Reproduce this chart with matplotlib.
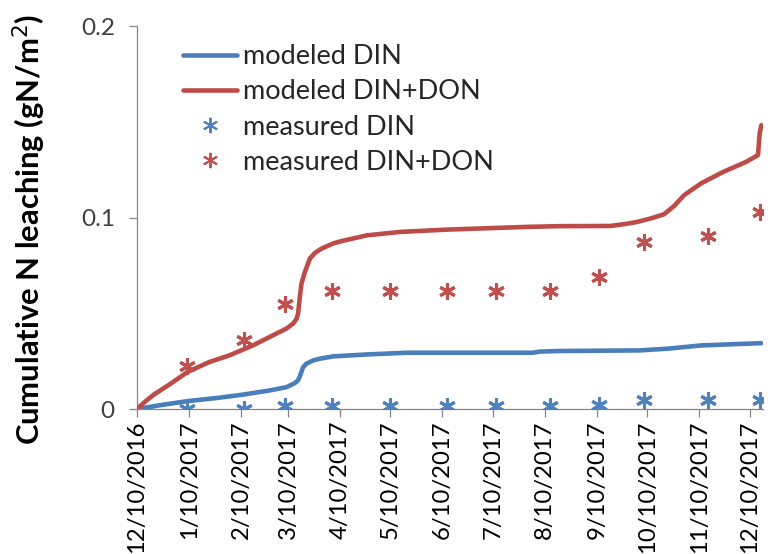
import numpy as np
import pandas as pd
import matplotlib
matplotlib.use("Agg")
import matplotlib.pyplot as plt

plt.rcParams['font.family'] = ['Lato', 'DejaVu Sans']

start_date = "2016-12-10"

# Modeled cumulative leaching (days since start, gN/m2)
red_days = [0, 5, 10, 20, 30, 43, 55, 69, 81, 89, 93, 95, 96, 97, 98, 100, 103,
            106, 110, 117, 121, 137, 157, 185, 232, 252, 282, 290, 298, 306,
            314, 320, 326, 336, 349, 363, 370, 371, 372]
red_vals = [0.0, 0.004, 0.0075, 0.0132, 0.0193, 0.0245, 0.028, 0.0332, 0.0385,
            0.042, 0.0446, 0.047, 0.0498, 0.0585, 0.0655, 0.0715, 0.0786,
            0.0815, 0.0838, 0.0865, 0.0875, 0.0907, 0.0925, 0.0937, 0.0951,
            0.0955, 0.0956, 0.0965, 0.0977, 0.0995, 0.1017, 0.1060, 0.1117,
            0.1178, 0.1237, 0.1291, 0.1326, 0.1439, 0.1482]

blue_days = [0, 7, 13, 30, 49, 63, 79, 89, 94, 96, 97, 99, 101, 105, 109, 117,
             137, 161, 196, 236, 240, 252, 299, 316, 336, 372]
blue_vals = [0.0, 0.001, 0.0019, 0.0041, 0.0059, 0.0075, 0.0097, 0.0114,
             0.0135, 0.0150, 0.017, 0.0219, 0.0237, 0.0254, 0.0263, 0.0275,
             0.0285, 0.0294, 0.0294, 0.0294, 0.0300, 0.0303, 0.0306, 0.0315,
             0.0332, 0.0344]

# Measured cumulative leaching
meas_days = [30, 64, 88, 116, 151, 185, 214, 246, 275, 302, 340, 371]
meas_din = [0.0, 0.0, 0.0015, 0.0015, 0.0015, 0.0015, 0.0015, 0.0015, 0.002,
            0.0045, 0.0045, 0.0045]
meas_dindon = [0.0224, 0.0362, 0.0547, 0.0615, 0.0615, 0.0615, 0.0615,
               0.0615, 0.069, 0.0872, 0.0902, 0.103]

tick_labels = ["12/10/2016", "1/10/2017", "2/10/2017", "3/10/2017",
               "4/10/2017", "5/10/2017", "6/10/2017", "7/10/2017",
               "8/10/2017", "9/10/2017", "10/10/2017", "11/10/2017",
               "12/10/2017"]
y_ticks = [0, 0.1, 0.2]
y_tick_labels = ["0", "0.1", "0.2"]

base = pd.Timestamp(start_date)
to_dates = lambda d: base + pd.to_timedelta(np.asarray(d), unit="D")

fig = plt.figure(figsize=(7.68, 5.54), dpi=100)
ax = fig.add_axes([0.1784, 0.2617, 0.8151, 0.6913])

c_blue = "#4A7EBB"
c_red = "#BE4B48"
star = (6, 2, 0)

ax.plot(to_dates(blue_days), blue_vals, color=c_blue, lw=3.3,
        solid_capstyle="round", label="modeled DIN", zorder=3)
ax.plot(to_dates(red_days), red_vals, color=c_red, lw=3.3,
        solid_capstyle="round", label="modeled DIN+DON", zorder=3)
ax.plot(to_dates(meas_days), meas_din, ls="none", marker=star, ms=12,
        mew=2.2, color="#4F81BD", label="measured DIN", zorder=4)
ax.plot(to_dates(meas_days), meas_dindon, ls="none", marker=star, ms=12,
        mew=2.2, color="#C0504D", label="measured DIN+DON", zorder=4)

ax.set_ylim(0, 0.2)
ax.set_xlim(base, base + pd.Timedelta(days=373))
ax.set_yticks(y_ticks)
ax.set_yticklabels(y_tick_labels)
tick_dates = pd.to_datetime(tick_labels, format="%m/%d/%Y")
ax.set_xticks(tick_dates)
ax.set_xticklabels(tick_labels, rotation=90, va="top", ha="center")

spine_c = "#868686"
for s in ["top", "right"]:
    ax.spines[s].set_visible(False)
for s in ["left", "bottom"]:
    ax.spines[s].set_color(spine_c)
    ax.spines[s].set_linewidth(0.9)
ax.tick_params(axis="both", direction="out", length=6, width=0.9,
               color=spine_c, labelsize=17.5, labelcolor="#404040")
ax.tick_params(axis="x", pad=2, labelsize=17.2, labelcolor="black")
ax.tick_params(axis="y", pad=10)

fig.text(0.038, 1 - 229 / 554, "Cumulative N leaching (gN/m$^2$)",
         rotation=90, ha="center", va="center", fontsize=22.3,
         fontweight="bold", color="black")

leg = ax.legend(loc="upper left", bbox_to_anchor=(183 / 768, 1 - 44 / 554),
                bbox_transform=fig.transFigure, frameon=False, fontsize=19.5,
                handlelength=2.0, handletextpad=0.2, labelspacing=0.38,
                borderpad=0, borderaxespad=0)
for t in leg.get_texts():
    t.set_color("#262626")
for h in leg.legend_handles[2:]:
    h.set_markersize(11)
    h.set_markeredgewidth(1.4)

fig.savefig("out.png", dpi=100)
